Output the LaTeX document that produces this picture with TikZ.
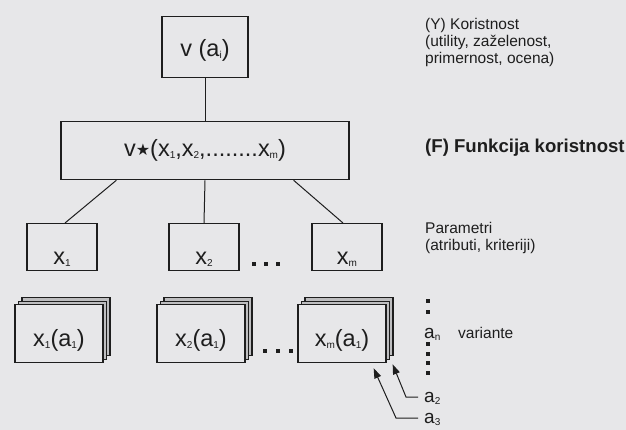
\documentclass[tikz,border=0pt]{standalone}
\usepackage{fontspec}
\setmainfont{Liberation Sans}
\newfontfamily\symfont{DejaVu Sans}
\usetikzlibrary{arrows.meta,calc,shadows}
\definecolor{paper}{RGB}{231,231,233}
\definecolor{ink}{RGB}{30,30,30}
\definecolor{card}{RGB}{190,190,192}
% lowered small index used in all formulas
\newcommand\subidx[1]{\raisebox{-2.2pt}{\fontsize{10}{10}\selectfont #1}}
\newcommand\vstar{{\symfont\fontsize{16}{16}\selectfont\raisebox{0.1em}{★}}}

\begin{document}
\begin{tikzpicture}[x=1pt,y=-1pt,
  box/.style={draw=ink, line width=1.3pt, inner sep=0pt, text=ink,
    font=\fontsize{23.5}{23.5}\selectfont},
  stack/.style={box, fill=paper,
    copy shadow={shadow xshift=7pt,shadow yshift=7pt,fill=card},
    copy shadow={shadow xshift=3.5pt,shadow yshift=3.5pt,fill=card},
    minimum width=88pt, text height=42pt, text depth=16pt},
  param/.style={box, minimum width=70pt, text height=41pt, text depth=6pt},
  link/.style={draw=ink, line width=1pt},
  arr/.style={draw=ink, line width=1pt, -{Triangle[length=10pt,width=7pt]}},
  note/.style={inner sep=0pt, align=left, text=ink, font=\fontsize{15.5}{17}\selectfont},
  idx/.style={inner sep=0pt, text=ink, font=\fontsize{19}{19}\selectfont},
  dot/.style={fill=ink}
]
\fill[paper] (0,0) rectangle (626,430);
\useasboundingbox (0,0) rectangle (626,430);

% utility and utility function
\node[box, anchor=north, minimum width=86pt, text height=40pt, text depth=21pt]
  (util) at (205,16) {v (a\subidx{i})};
\node[box, anchor=north, minimum width=288pt, text height=35pt, text depth=23pt]
  (func) at (205,121) {v\vstar(x\subidx{1},x\subidx{2},........x\subidx{m})};

% parameters
\node[param, anchor=north] (p1) at (62,223) {x\subidx{1}};
\node[param, anchor=north] (p2) at (204,223) {x\subidx{2}};
\node[param, anchor=north] (pm) at (347,223) {x\subidx{m}};

% parameter values for the variants (stacked cards)
\node[stack, anchor=north] (s1) at (59,304) {x\subidx{1}(a\subidx{1})};
\node[stack, anchor=north] (s2) at (201,304) {x\subidx{2}(a\subidx{1})};
\node[stack, anchor=north] (sm) at (342,304) {x\subidx{m}(a\subidx{1})};

% tree connectors
\draw[link] (util.south) -- (func.north);
\draw[link] ($(func.south west)+(56,0)$) -- ($(p1.north)+(3,0)$);
\draw[link] (func.south) -- (p2.north);
\draw[link] ($(func.south east)+(-56,0)$) -- ($(pm.north)+(-4,0)$);

% ellipses between boxes
\foreach \x in {254,266,278} \fill[dot] (\x-2,262) rectangle ++(4,4);
\foreach \x in {265,278,291} \fill[dot] (\x-2,349) rectangle ++(4,4);

% right-hand descriptions
\node[note, anchor=north west] (ylab) at (425,18)
  {(Y) Koristnost\\(utility, zaželenost,\\primernost, ocena)};
\node[inner sep=0pt, anchor=west, text=ink, font=\bfseries\fontsize{18.6}{20}\selectfont]
  (flab) at (425,148) {(F) Funkcija koristnost};
\node[note, anchor=north west] (plab) at (425,222)
  {Parametri\\(atributi, kriteriji)};

% list of variants
\foreach \y in {301,311.5,344,353.5,362.5,372.5} \fill[dot] (426,\y-2) rectangle ++(4,4);
\node[idx, anchor=base west] (an) at (424,338) {a\subidx{n}};
\node[note, anchor=base west] (vlab) at (458,338) {variante};
\node[idx, anchor=base west] (a2) at (424,402) {a\subidx{2}};
\node[idx, anchor=base west] (a3) at (424,423) {a\subidx{3}};

\draw[arr] ($(a2.base west)+(-6,-5)$) -- ++(-12,0) -- ($(sm.south east)+(6,1)$);
\draw[arr] ($(a3.base west)+(-6,-5)$) -- ++(-22,0) -- ($(sm.south east)+(-13,5)$);
\end{tikzpicture}
\end{document}
